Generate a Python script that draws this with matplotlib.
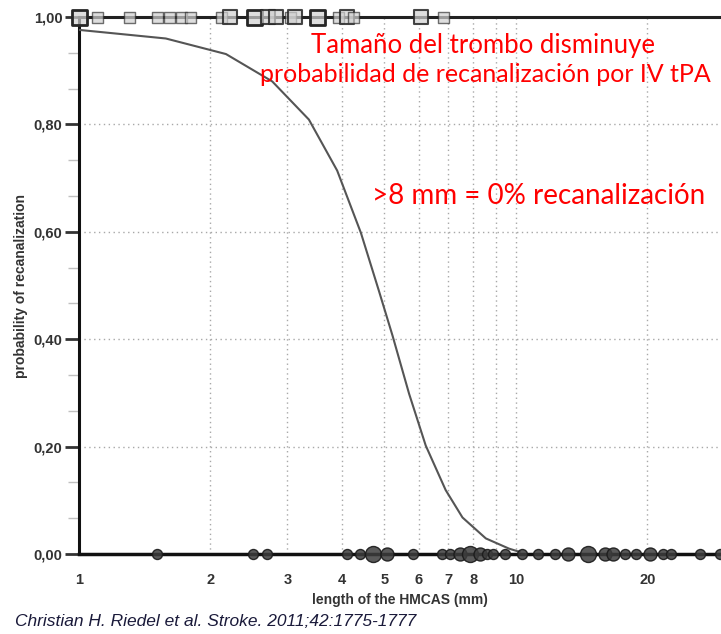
import matplotlib
matplotlib.use('Agg')
import matplotlib.pyplot as plt
import numpy as np

# fitted curve
curve_x = [1.0, 1.58, 2.17, 2.77, 3.36, 3.90, 4.42, 4.86, 5.22, 5.70, 6.22, 6.91, 7.55, 8.54, 9.65, 10.2]
curve_p = [0.976, 0.960, 0.931, 0.880, 0.809, 0.714, 0.598, 0.490, 0.407, 0.298, 0.202, 0.119, 0.068, 0.029, 0.010, 0.004]

# recanalized thrombi (p = 1), count per position
recan_x = [1.0, 1.10, 1.30, 1.51, 1.61, 1.71, 1.80, 2.11, 2.22, 2.51, 2.71, 2.83, 3.04, 3.12, 3.50, 3.92, 4.10, 4.24, 6.08, 6.82]
recan_n = [3, 1, 1, 1, 1, 1, 1, 1, 2, 3, 2, 2, 1, 2, 3, 1, 2, 1, 2, 1]

# not recanalized (p = 0)
norecan_x = [1.51, 2.50, 2.70, 4.10, 4.40, 4.70, 5.06, 5.82, 6.76, 7.06, 7.45, 7.85, 8.27, 8.57, 8.87, 9.44,
             10.31, 11.25, 12.28, 13.18, 14.64, 15.98, 16.70, 17.76, 18.89, 20.26, 21.73, 22.72, 26.37, 29.3]
norecan_n = [1, 1, 1, 1, 1, 3, 2, 1, 1, 1, 2, 3, 2, 1, 1, 1,
             1, 1, 1, 2, 3, 2, 2, 1, 1, 2, 1, 1, 1, 1]

x_ticks = [1, 2, 3, 4, 5, 6, 7, 8, 9, 10, 20]
x_labels = ['1', '2', '3', '4', '5', '6', '7', '8', '', '10', '20']
y_ticks = [0.0, 0.2, 0.4, 0.6, 0.8, 1.0]
y_labels = ['0,00', '0,20', '0,40', '0,60', '0,80', '1,00']

W, H = 721, 634
fig = plt.figure(figsize=(W / 100, H / 100), dpi=100)
ax = fig.add_axes([79 / W, 80 / H, (W - 79) / W, (554 - 17) / H])

ax.set_xscale('log')
ax.set_xlim(1, 29.5)
ax.set_ylim(0, 1)

# grid
ax.set_xticks(x_ticks)
ax.set_xticklabels(x_labels)
ax.set_xticks([1, 10], minor=True)
ax.set_yticks(y_ticks)
ax.set_yticklabels(y_labels)
ax.set_yticks([v for v in np.arange(0, 1.0001, 0.2 / 3) if min(abs(v - t) for t in y_ticks) > 1e-3], minor=True)
ax.grid(True, which='major', color='#a8a8a8', linestyle=(0, (1, 2.5)), linewidth=1)

ax.tick_params(axis='x', which='major', length=0, pad=14, labelsize=10.5, labelcolor='#333333')
ax.tick_params(axis='x', which='minor', length=13, width=2, color='#222222', top=True, labelbottom=False)
ax.tick_params(axis='y', which='major', length=10, width=2, color='#333333', labelsize=10.5, labelcolor='#333333', pad=2)
ax.tick_params(axis='y', which='minor', length=8, width=1, color='#c0c0c0')
for lab in ax.get_xticklabels() + ax.get_yticklabels():
    lab.set_fontweight('bold')
    lab.set_fontfamily('Liberation Sans')

for s in ['top', 'right']:
    ax.spines[s].set_visible(False)
ax.spines['left'].set_linewidth(2.2)
ax.spines['left'].set_color('#111111')
ax.spines['bottom'].set_linewidth(2.5)
ax.spines['bottom'].set_color('#111111')
ax.axhline(1.0, color='#222222', lw=2.2, clip_on=False, zorder=3)

# curve
ax.plot(curve_x, curve_p, color='#555555', lw=1.5, zorder=4)

# markers
side = {1: 11, 2: 14, 3: 15}
for x, n in zip(recan_x, recan_n):
    d = side[n] * 0.72
    ax.scatter([x], [1.0], s=d ** 2, marker='s', facecolor=[(0.82, 0.82, 0.82, 0.7)],
               edgecolor=[(0.15, 0.15, 0.15, min(1.0, 0.45 + 0.2 * n))], linewidth=1.0 + 0.5 * (n - 1),
               clip_on=False, zorder=5)

diam = {1: 10, 2: 13, 3: 16}
for x, n in zip(norecan_x, norecan_n):
    d = diam[n] * 0.72
    ax.scatter([x], [0.0], s=d ** 2, marker='o', facecolor=[(0.24, 0.24, 0.24, 0.85)],
               edgecolor=[(0.1, 0.1, 0.1, 0.9)], linewidth=1,
               clip_on=False, zorder=5)

ax.set_xlabel('length of the HMCAS (mm)', fontsize=10, fontweight='bold', color='#333333',
              family='Liberation Sans', labelpad=4)
ax.set_ylabel('probability of recanalization', fontsize=10, fontweight='bold', color='#333333',
              family='Liberation Sans', labelpad=4)

# annotations
red = '#ff0000'
fig.text(483 / W, 1 - 45 / H, 'Tamaño del trombo disminuye', ha='center', va='center',
         color=red, fontsize=18.5, family='Lato')
fig.text(485 / W, 1 - 75 / H, 'probabilidad de recanalización por IV tPA', ha='center', va='center',
         color=red, fontsize=18, family='Lato')
fig.text(539 / W, 1 - 196 / H, '>8 mm = 0% recanalización', ha='center', va='center',
         color=red, fontsize=20, family='Lato')

fig.text(15 / W, 1 - 622 / H, 'Christian H. Riedel et al. Stroke. 2011;42:1775-1777', ha='left', va='center',
         color='#1a1a3a', fontsize=12.5, style='italic', family='Liberation Sans')

fig.savefig('out.png', dpi=100, facecolor='white')
